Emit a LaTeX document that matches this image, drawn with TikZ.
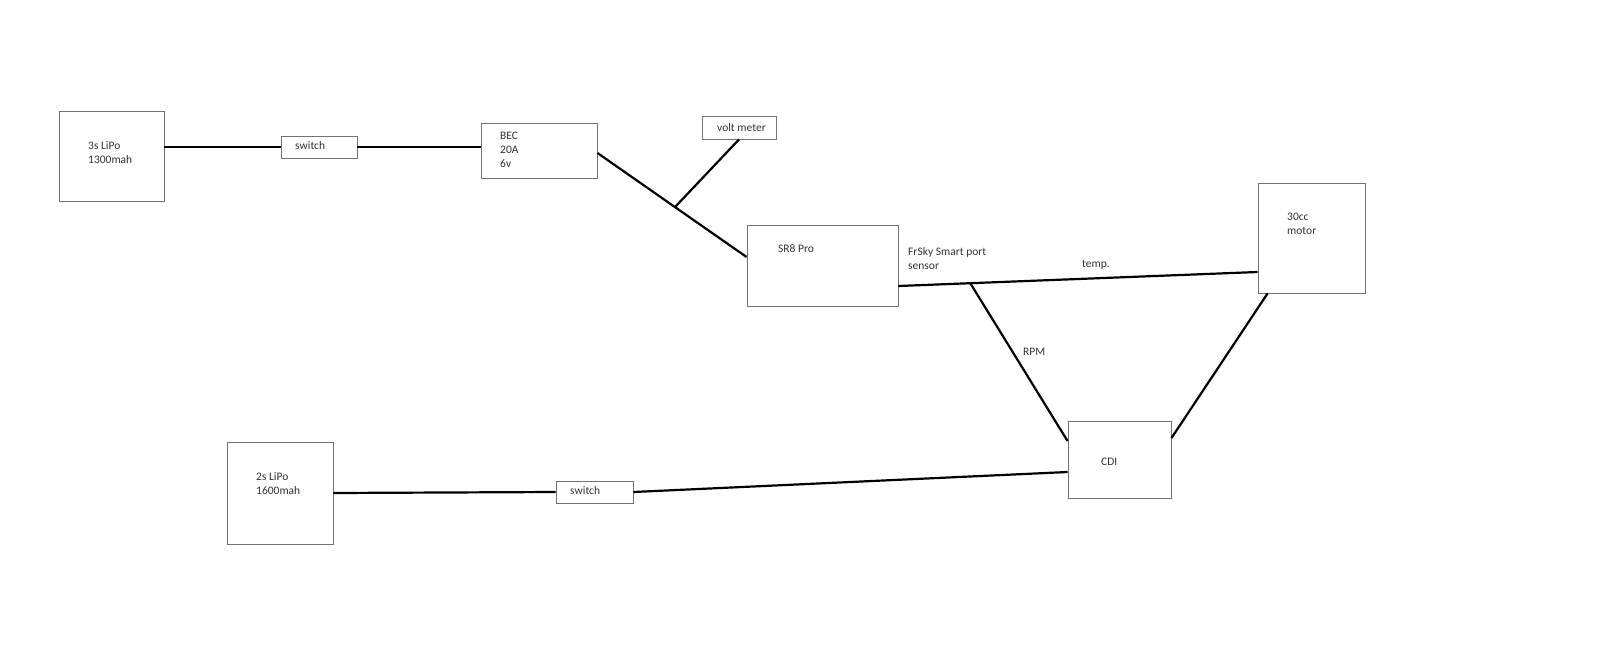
\documentclass[tikz,border=0pt]{standalone}
\usepackage{fontspec}
\setmainfont{Carlito}
\usetikzlibrary{calc}
\begin{document}
\begin{tikzpicture}[x=1pt,y=-1pt,
  box/.style={draw=black!55, line width=0.9pt, inner sep=0pt, fill=white},
  lbl/.style={anchor=west, inner sep=0pt, font=\fontsize{11.5}{14}\selectfont, text=black!80, align=left},
  wire/.style={line width=2.2pt, black}]
\useasboundingbox[fill=white] (0,0) rectangle (1600,669);
% boxes
\node[box, minimum width=105pt, minimum height=90pt] (bat3) at (111.5,156) {};
\node[box, minimum width=76pt, minimum height=22pt] (sw1) at (319,147) {};
\node[box, minimum width=116pt, minimum height=55pt] (bec) at (539,150.5) {};
\node[box, minimum width=74pt, minimum height=23pt] (volt) at (739,127.5) {};
\node[box, minimum width=151pt, minimum height=81pt] (sr8) at (822.5,265.5) {};
\node[box, minimum width=107pt, minimum height=110pt] (motor) at (1311.5,238) {};
\node[box, minimum width=103pt, minimum height=77pt] (cdi) at (1119.5,459.5) {};
\node[box, minimum width=106pt, minimum height=102pt] (bat2) at (280,493) {};
\node[box, minimum width=77pt, minimum height=22pt] (sw2) at (594.5,492) {};
% labels
\node[lbl] (tbat3) at (88,153) {3s LiPo\\1300mah};
\node[lbl] (tsw1) at (295,146) {switch};
\node[lbl] (tbec) at (500,150) {BEC\\20A\\6v};
\node[lbl] (tvolt) at (717,128) {volt meter};
\node[lbl] (tsr8) at (778,249) {SR8 Pro};
\node[lbl] (tfrsky) at (908,259) {FrSky Smart port\\sensor};
\node[lbl] (ttemp) at (1082,265) {temp.};
\node[lbl] (tmotor) at (1287,224) {30cc\\motor};
\node[lbl] (trpm) at (1023,352) {RPM};
\node[lbl] (tcdi) at (1101,462) {CDI};
\node[lbl] (tbat2) at (256,484) {2s LiPo\\1600mah};
\node[lbl] (tsw2) at (570,491) {switch};
% connection points
\coordinate (becout) at ($(bec.east)+(0,2.5)$);
\coordinate (sr8in) at ($(sr8.west)+(0,-8.5)$);
\coordinate (j1) at ($(becout)!0.52!(sr8in)$);
\coordinate (sr8out) at ($(sr8.east)+(0,20.5)$);
\coordinate (motorin) at ($(motor.west)+(0,34)$);
\coordinate (j2) at ($(sr8out)!0.2!(motorin)$);
\coordinate (cdirpm) at ($(cdi.west)+(0,-18.5)$);
\coordinate (motorout) at ($(motor.south west)+(10,0)$);
\coordinate (cdimotor) at ($(cdi.east)+(0,-21.5)$);
\coordinate (cdipwr) at ($(cdi.west)+(0,12.5)$);
% wires
\draw[wire] (bat3.east |- sw1.west) -- (sw1.west);
\draw[wire] (sw1.east) -- (sw1.east -| bec.west);
\draw[wire] (becout) -- (sr8in);
\draw[wire] (j1) -- (volt.south);
\draw[wire] (sr8out) -- (motorin);
\draw[wire] (j2) -- (cdirpm);
\draw[wire] (motorout) -- (cdimotor);
\draw[wire] (bat2.east) -- (sw2.west);
\draw[wire] (sw2.east) -- (cdipwr);
\end{tikzpicture}
\end{document}
